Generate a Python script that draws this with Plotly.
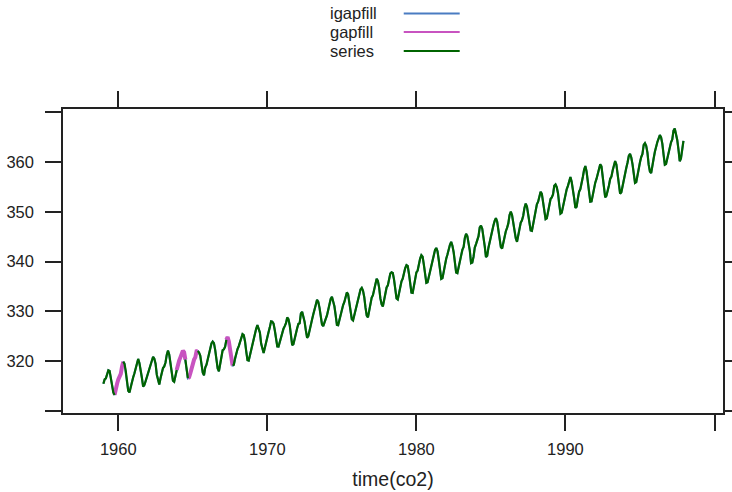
import plotly.graph_objects as go

# Monthly CO2 (ppm), 1959-1997
co2_by_year = {
    1959: [315.42, 316.31, 316.50, 317.56, 318.13, 318.00, 316.39, 314.65, 313.68, 313.18, 314.66, 315.43],
    1960: [316.27, 316.81, 317.42, 318.87, 319.87, 319.43, 318.01, 315.74, 314.00, 313.68, 314.84, 316.03],
    1961: [316.73, 317.54, 318.38, 319.31, 320.42, 319.61, 318.42, 316.63, 314.83, 315.16, 315.94, 316.85],
    1962: [317.78, 318.40, 319.53, 320.42, 320.85, 320.45, 319.45, 317.25, 316.11, 315.27, 316.53, 317.53],
    1963: [318.58, 318.92, 319.70, 321.22, 322.08, 321.31, 319.58, 317.61, 316.05, 315.83, 316.91, 318.20],
    1964: [319.41, 320.07, 320.74, 321.40, 322.06, 321.73, 320.27, 318.54, 316.54, 316.71, 317.53, 318.55],
    1965: [319.27, 320.28, 320.73, 321.97, 322.00, 321.71, 321.05, 318.71, 317.66, 317.14, 318.70, 319.25],
    1966: [320.46, 321.43, 322.23, 323.54, 323.91, 323.59, 322.24, 320.20, 318.48, 317.94, 319.63, 320.87],
    1967: [322.17, 322.34, 322.88, 324.25, 324.83, 323.93, 322.38, 320.76, 319.10, 319.24, 320.56, 321.80],
    1968: [322.40, 322.99, 323.73, 324.86, 325.40, 325.20, 323.98, 321.95, 320.18, 320.09, 321.16, 322.74],
    1969: [323.83, 324.26, 325.47, 326.50, 327.21, 326.54, 325.72, 323.50, 322.22, 321.62, 322.69, 323.95],
    1970: [324.89, 325.82, 326.77, 327.97, 327.91, 327.50, 326.18, 324.53, 322.93, 322.90, 323.85, 324.96],
    1971: [326.01, 326.51, 327.01, 327.62, 328.76, 328.40, 327.20, 325.27, 323.20, 323.40, 324.63, 325.85],
    1972: [326.60, 327.47, 327.58, 329.56, 329.90, 328.92, 327.88, 326.16, 324.68, 325.04, 326.34, 327.39],
    1973: [328.37, 329.40, 330.14, 331.33, 332.31, 331.90, 330.70, 329.15, 327.35, 327.02, 327.99, 328.48],
    1974: [329.18, 330.55, 331.32, 332.48, 332.92, 332.08, 331.01, 329.23, 327.27, 327.21, 328.29, 329.41],
    1975: [330.23, 331.25, 331.87, 333.14, 333.80, 333.43, 331.73, 329.90, 328.40, 328.17, 329.32, 330.59],
    1976: [331.58, 332.39, 333.33, 334.41, 334.71, 334.17, 332.89, 330.77, 329.14, 328.78, 330.14, 331.52],
    1977: [332.75, 333.24, 334.53, 335.90, 336.57, 336.10, 334.76, 332.59, 331.42, 330.98, 332.24, 333.68],
    1978: [334.80, 335.22, 336.47, 337.59, 337.84, 337.72, 336.37, 334.51, 332.60, 332.38, 333.75, 334.78],
    1979: [336.05, 336.59, 337.79, 338.71, 339.30, 339.12, 337.56, 335.92, 333.75, 333.70, 335.12, 336.56],
    1980: [337.84, 338.19, 339.91, 340.60, 341.29, 341.00, 339.39, 337.43, 335.72, 335.84, 336.93, 338.04],
    1981: [339.06, 340.30, 341.21, 342.33, 342.74, 342.08, 340.32, 338.26, 336.52, 336.68, 338.19, 339.44],
    1982: [340.57, 341.44, 342.53, 343.39, 343.96, 343.18, 341.88, 339.65, 337.81, 337.69, 339.09, 340.32],
    1983: [341.20, 342.35, 342.93, 344.77, 345.58, 345.14, 343.81, 342.21, 339.69, 339.82, 340.98, 342.82],
    1984: [343.52, 344.33, 345.11, 346.88, 347.25, 346.62, 345.22, 343.11, 340.90, 341.18, 342.80, 344.04],
    1985: [344.79, 345.82, 347.25, 348.17, 348.74, 348.07, 346.38, 344.51, 342.92, 342.62, 344.06, 345.38],
    1986: [346.11, 346.78, 347.68, 349.37, 350.03, 349.37, 347.76, 345.73, 344.68, 343.99, 345.48, 346.72],
    1987: [347.84, 348.29, 349.23, 350.80, 351.66, 351.07, 349.33, 347.92, 346.27, 346.18, 347.64, 348.78],
    1988: [350.25, 351.54, 352.05, 353.41, 354.04, 353.62, 352.22, 350.27, 348.55, 348.72, 349.91, 351.18],
    1989: [352.60, 352.92, 353.53, 355.26, 355.52, 354.97, 353.75, 351.52, 349.64, 349.83, 351.14, 352.37],
    1990: [353.50, 354.55, 355.23, 356.04, 357.00, 356.07, 354.67, 352.76, 350.82, 351.04, 352.69, 354.07],
    1991: [354.59, 355.63, 357.03, 358.48, 359.22, 358.12, 356.06, 353.92, 352.05, 352.11, 353.64, 354.89],
    1992: [355.88, 356.63, 357.72, 359.07, 359.58, 359.17, 356.94, 354.92, 352.94, 353.23, 354.09, 355.33],
    1993: [356.63, 357.10, 358.32, 359.41, 360.23, 359.55, 357.53, 355.48, 353.67, 353.95, 355.30, 356.78],
    1994: [358.34, 358.89, 359.95, 361.25, 361.67, 360.94, 359.55, 357.49, 355.84, 356.00, 357.59, 359.05],
    1995: [359.98, 361.03, 361.66, 363.48, 363.82, 363.30, 361.94, 359.50, 358.11, 357.80, 359.61, 360.74],
    1996: [362.09, 363.29, 364.06, 364.76, 365.45, 365.01, 363.70, 361.54, 359.51, 359.65, 360.80, 362.38],
    1997: [363.18, 364.00, 364.57, 366.35, 366.79, 365.62, 364.47, 362.51, 360.19, 360.77, 362.43, 364.28],
}

# gap spans (inclusive month indices from Jan 1959) shown by gapfill
gap_spans = [(9, 16), (59, 66), (68, 76), (99, 104)]

years = sorted(co2_by_year)
times = [y + m / 12 for y in years for m in range(12)]
igapfill = [v for y in years for v in co2_by_year[y]]

gapfill = [None] * len(igapfill)
series = list(igapfill)
for a, b in gap_spans:
    for i in range(a, b + 1):
        gapfill[i] = igapfill[i]
    for i in range(a + 1, b):
        series[i] = None

col_blue = "#4A7CC2"
col_mag = "#C853C0"
col_green = "#006400"

fig = go.Figure()
fig.add_trace(go.Scatter(x=times, y=igapfill, mode="lines", name="igapfill",
                         line=dict(color=col_blue, width=2), showlegend=False))
fig.add_trace(go.Scatter(x=times, y=gapfill, mode="lines", name="gapfill",
                         line=dict(color=col_mag, width=4), showlegend=False,
                         connectgaps=False))
fig.add_trace(go.Scatter(x=times, y=series, mode="lines", name="series",
                         line=dict(color=col_green, width=2.2), showlegend=False,
                         connectgaps=False))

x_ticks = [1960, 1970, 1980, 1990, 2000]
x_text = ["1960", "1970", "1980", "1990", ""]
y_ticks = [310, 320, 330, 340, 350, 360, 370]
y_text = ["", "320", "330", "340", "350", "360", ""]

L, R, T, B = 63, 723.5, 109, 413
W, H = 732, 492
pw, ph = R - L, B - T

def px(x):
    return (x - L) / pw

def py(y):
    return (B - y) / ph

legend_names = ["igapfill", "gapfill", "series"]
legend_cols = [col_blue, col_mag, col_green]
legend_y = [13.5, 32, 51]
shapes = []
annotations = []
for nm, c, yy in zip(legend_names, legend_cols, legend_y):
    annotations.append(dict(x=px(328), y=py(yy), xref="paper", yref="paper",
                            text=nm, showarrow=False, xanchor="left", yanchor="middle",
                            font=dict(size=16.5, color="#222222")))
    shapes.append(dict(type="line", xref="paper", yref="paper",
                       x0=px(404), x1=px(460), y0=py(yy), y1=py(yy),
                       line=dict(color=c, width=2)))

axis_common = dict(showgrid=False, zeroline=False, showline=True, mirror="ticks",
                   linecolor="#222222", linewidth=1.5, ticks="outside", ticklen=16,
                   tickwidth=1.5, tickcolor="#222222", automargin=False,
                   tickfont=dict(size=16.5, color="#222222", family="Liberation Sans, Arial, sans-serif"))

fig.update_layout(
    width=W, height=H,
    margin=dict(l=L, r=W - R, t=T, b=H - B, autoexpand=False),
    paper_bgcolor="white", plot_bgcolor="white",
    font=dict(family="Liberation Sans, Arial, sans-serif", color="#222222"),
    xaxis=dict(range=[1956.29, 2000.57], tickvals=x_ticks, ticktext=x_text,
               title=dict(text="time(co2)", font=dict(size=19.5), standoff=16),
               ticklabelstandoff=4, **axis_common),
    yaxis=dict(range=[309.54, 370.7], tickvals=y_ticks, ticktext=y_text,
               ticklabelstandoff=8, **axis_common),
    shapes=shapes, annotations=annotations,
)

fig.write_html("out.html")
